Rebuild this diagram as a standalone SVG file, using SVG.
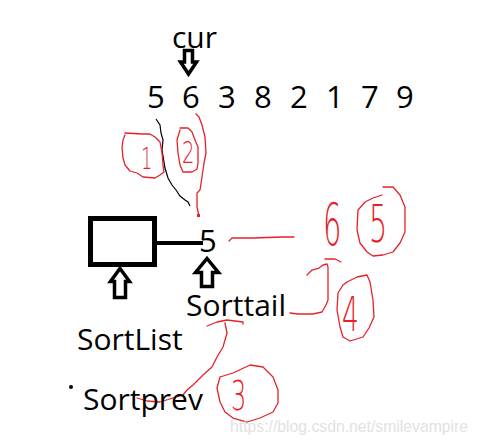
<svg xmlns="http://www.w3.org/2000/svg" width="479" height="445" viewBox="0 0 479 445">
<style>
.t{font-family:"Open Sans","Noto Sans",sans-serif;fill:#000}
.big{font-size:30px}
.num{font-size:31px}
.red{fill:none;stroke:#e8202a;stroke-width:1.3;stroke-linejoin:round;stroke-linecap:round}
.hd{font-family:"DejaVu Sans","Liberation Sans",sans-serif;font-weight:200;fill:#e8202a}
.arr{fill:#fff;stroke:#000;stroke-width:3.5;stroke-linejoin:miter}
</style>
<rect width="479" height="445" fill="#fff"/>
<g id="cur">
<text class="t big" x="172" y="48">cur</text>
<polygon class="arr" points="184.5,50.5 192.5,50.5 192.5,62 196.5,62 188.5,74 180.5,62 184.5,62"/>
</g>
<g id="sequence">
<text class="t num" y="108"><tspan x="147">5</tspan> <tspan x="182">6</tspan> <tspan x="218">3</tspan> <tspan x="254">8</tspan> <tspan x="290">2</tspan> <tspan x="326">1</tspan> <tspan x="361">7</tspan> <tspan x="396">9</tspan></text>
</g>
<g id="sketch-marks">
<path d="M156,119 L160,125 L161,133 L163,140 L162,150 L165,168 L168,178 L172,185 L176,190 L180,196 L185,200 L188,202 L190,206" fill="none" stroke="#000" stroke-width="1.2"/>
<path class="red" d="M125,133 L142,134 L150,134 L155,137 L160,142 L162,153 L163,165 L164,172 L160,175 L155,178 L143,177 L137,173 L130,171 L125,165 L123,158 L122,147 L123,140 L125,135"/>
<text class="hd" x="141" y="169" font-size="30" transform="translate(141 169) scale(0.6 1) translate(-141 -169)">1</text>
<path class="red" d="M180,128 L188,128 L192,132 L195,140 L198,147 L198,163 L197,169 L192,172 L183,172 L180,165 L178,153 L177,140 L180,130"/>
<text class="hd" x="182" y="163" font-size="30" transform="translate(182 163) scale(0.65 1) translate(-182 -163)">2</text>
<path class="red" d="M196,114 L199,117 L202,125 L205,137 L206,153 L204,163 L202,177 L200,190 L197,193 L197,207 L199,216"/>
<rect x="197" y="214" width="3" height="3" fill="#e8202a"/>
<path class="red" d="M229,241 L232,238 L253,238 L282,237 L294,237"/>
<text class="hd" x="323" y="245" font-size="58" transform="translate(323 245) scale(0.5 1) translate(-323 -245)">6</text>
<path class="red" d="M383,187 L393,187 L400,195 L405,207 L405,232 L400,243 L393,252 L383,255 L373,256 L367,252 L360,243 L357,230 L358,210 L365,202 L373,198 L382,195"/>
<text class="hd" x="369" y="242" font-size="52" transform="translate(369 242) scale(0.55 1) translate(-369 -242)">5</text>
<path class="red" d="M325,259 L335,259 L341,262"/>
<path class="red" d="M307,275 L312,270 L319,268 L323,265 L327,264 L328,267 L328,300 L326,305 L322,312 L313,314 L298,314 L290,313"/>
<path class="red" d="M347,282 L357,277 L367,275 L370,282 L373,300 L374,317 L369,328 L363,337 L350,341 L343,337 L340,327 L337,310 L338,293 L343,285 L347,282"/>
<text class="hd" x="342" y="331" font-size="48" transform="translate(342 331) scale(0.55 1) translate(-342 -331)">4</text>
<path class="red" d="M207,326 L217,322 L227,320 L243,322 L243,324"/>
<path class="red" d="M225,323 L227,333 L223,347 L217,357 L212,367 L203,375 L193,385 L187,390 L183,395 L173,398 L160,402 L147,401 L137,398"/>
<path class="red" d="M220,377 L233,373 L250,365 L263,367 L273,377 L278,390 L278,403 L273,412 L260,418 L247,422 L233,418 L225,412 L220,402 L217,388 L220,377"/>
<text class="hd" x="231" y="410" font-size="40" transform="translate(231 410) scale(0.6 1) translate(-231 -410)">3</text>
</g>
<g id="sortlist-node">
<rect x="90.5" y="218.5" width="64" height="46" fill="none" stroke="#000" stroke-width="5"/>
</g>
<g id="node-5">
<text class="t num" x="199" y="252">5</text>
</g>
<g id="connectors">
<line x1="155" y1="243" x2="203" y2="243" stroke="#000" stroke-width="4"/>
</g>
<g id="sortlist-label">
<polygon class="arr" points="120,268.5 129.5,281.5 125.5,281.5 125.5,297.5 114.5,297.5 114.5,281.5 110.5,281.5"/>
<text class="t big" x="77" y="350">SortList</text>
</g>
<g id="sorttail-label">
<polygon class="arr" points="207,258.5 218.5,272.5 212.5,272.5 212.5,286.5 201.5,286.5 201.5,272.5 195.5,272.5"/>
<text class="t big" x="186" y="316">Sorttail</text>
</g>
<g id="sortprev-label">
<circle cx="71" cy="387" r="2" fill="#000"/>
<text class="t big" x="83" y="410">Sortprev</text>
</g>
<text x="230" y="432" font-family="Liberation Sans, Arial, sans-serif" font-size="16" fill="#e2e2e2" textLength="238" lengthAdjust="spacingAndGlyphs">https://blog.csdn.net/smilevampire</text>
</svg>
